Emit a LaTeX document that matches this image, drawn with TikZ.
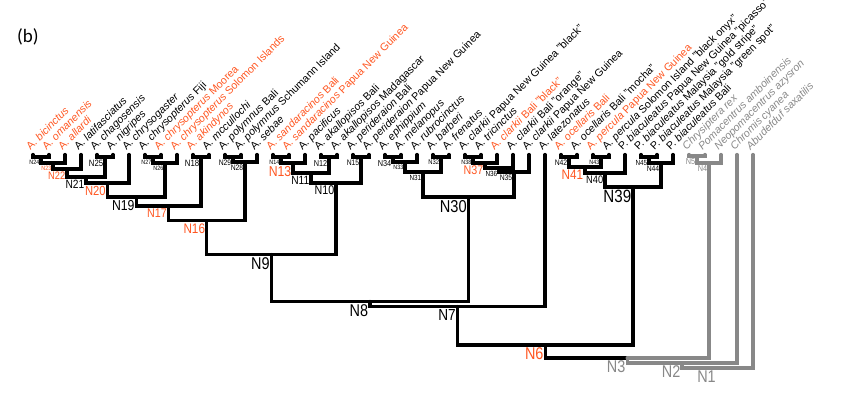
\documentclass[tikz,border=0pt]{standalone}
\usepackage{fontspec}
\usetikzlibrary{calc}
\setmainfont{Liberation Sans}
\newfontfamily\capfont{Carlito}
\definecolor{orng}{RGB}{255,87,34}
\definecolor{gry}{RGB}{136,136,136}
\newcommand\ed[2]{\draw[br] (#1) -| (#2);}
\newcommand\ged[2]{\draw[gbr] (#1) -| (#2);}
\newcommand\nlab[4][]{\node[nl=#3,#1] (l#2) at ($(#2)+(-1.6,2.8)$) {#4};}
\begin{document}
\begin{tikzpicture}[x=1pt,y=-1pt,
  br/.style={line width=3.2pt, line cap=round, draw=black},
  gbr/.style={br, draw=gry},
  leaflab/.style={rotate=45, anchor=base west, inner sep=0pt, font=\fontsize{10.7}{12}\selectfont},
  nl/.style={anchor=north east, inner sep=0pt, xscale=0.85, font=\fontsize{#1}{#1}\selectfont},
  hl/.style={text=orng},
  og/.style={text=gry}]
\useasboundingbox (0,0) rectangle (846,392);
\node[anchor=base west, inner sep=0pt, font=\capfont\fontsize{19}{19}\selectfont] (panel) at (17,42) {(b)};
% leaves
\foreach \i in {1,...,46}{
  \coordinate (L\i) at ({33+16*(\i-1)},154.5);
}
% internal nodes
\coordinate (N24) at (41,157);
\coordinate (N23) at (53,163);
\coordinate (N22) at (67,169);
\coordinate (N25) at (105,157);
\coordinate (N21) at (86,177);
\coordinate (N20) at (107.5,183);
\coordinate (N27) at (153,157);
\coordinate (N26) at (165,163);
\coordinate (N19) at (136.25,197);
\coordinate (N18) at (201,157);
\coordinate (N17) at (168.625,206);
\coordinate (N29) at (233,157);
\coordinate (N28) at (245,162);
\coordinate (N16) at (206.81,220.7);
\coordinate (N14) at (281,157);
\coordinate (N13) at (293,163);
\coordinate (N12) at (329,157);
\coordinate (N11) at (311,173);
\coordinate (N15) at (361,157);
\coordinate (N10) at (336,183);
\coordinate (N9) at (271.41,254.5);
\coordinate (N34) at (393,157);
\coordinate (N33) at (405,162);
\coordinate (N32) at (441,157);
\coordinate (N31) at (423,172);
\coordinate (N38) at (473,157);
\coordinate (N37) at (485,163);
\coordinate (N36) at (499,168);
\coordinate (N35) at (514,172);
\coordinate (N30) at (468.5,197);
\coordinate (N8) at (369.95,301.5);
\coordinate (N7) at (457.48,306.5);
\coordinate (N42) at (569,157);
\coordinate (N43) at (601,157);
\coordinate (N41) at (585,167);
\coordinate (N40) at (605,173);
\coordinate (N45) at (649,157);
\coordinate (N44) at (661,163);
\coordinate (N39) at (633,187);
\coordinate (N6) at (545.24,345);
\coordinate (N5) at (697,156);
\coordinate (N4) at (709,163);
\coordinate (N3) at (627.12,358);
\coordinate (N2) at (682.06,363);
\coordinate (N1) at (717.53,368);
% edges
\ed{N24}{L1}\ed{N24}{L2}
\ed{N23}{N24}\ed{N23}{L3}
\ed{N22}{N23}\ed{N22}{L4}
\ed{N25}{L5}\ed{N25}{L6}
\ed{N21}{N22}\ed{N21}{N25}
\ed{N20}{N21}\ed{N20}{L7}
\ed{N27}{L8}\ed{N27}{L9}
\ed{N26}{N27}\ed{N26}{L10}
\ed{N19}{N20}\ed{N19}{N26}
\ed{N18}{L11}\ed{N18}{L12}
\ed{N17}{N19}\ed{N17}{N18}
\ed{N29}{L13}\ed{N29}{L14}
\ed{N28}{N29}\ed{N28}{L15}
\ed{N16}{N17}\ed{N16}{N28}
\ed{N14}{L16}\ed{N14}{L17}
\ed{N13}{N14}\ed{N13}{L18}
\ed{N12}{L19}\ed{N12}{L20}
\ed{N11}{N13}\ed{N11}{N12}
\ed{N15}{L21}\ed{N15}{L22}
\ed{N10}{N11}\ed{N10}{N15}
\ed{N9}{N16}\ed{N9}{N10}
\ed{N34}{L23}\ed{N34}{L24}
\ed{N33}{N34}\ed{N33}{L25}
\ed{N32}{L26}\ed{N32}{L27}
\ed{N31}{N33}\ed{N31}{N32}
\ed{N38}{L28}\ed{N38}{L29}
\ed{N37}{N38}\ed{N37}{L30}
\ed{N36}{N37}\ed{N36}{L31}
\ed{N35}{N36}\ed{N35}{L32}
\ed{N30}{N31}\ed{N30}{N35}
\ed{N8}{N9}\ed{N8}{N30}
\ed{N7}{N8}\ed{N7}{L33}
\ed{N42}{L34}\ed{N42}{L35}
\ed{N43}{L36}\ed{N43}{L37}
\ed{N41}{N42}\ed{N41}{N43}
\ed{N40}{N41}\ed{N40}{L38}
\ed{N45}{L39}\ed{N45}{L40}
\ed{N44}{N45}\ed{N44}{L41}
\ed{N39}{N40}\ed{N39}{N44}
\ed{N6}{N7}\ed{N6}{N39}
\ged{N5}{L42}\ged{N5}{L43}
\ged{N4}{N5}\ged{N4}{L44}
\ed{N3}{N6}\ged{N3}{N4}
\ged{N2}{N3}\ged{N2}{L45}
\ged{N1}{N2}\ged{N1}{L46}
% node labels
\nlab[og]{N1}{17}{N1}
\nlab[og]{N2}{17}{N2}
\nlab[og]{N3}{17}{N3}
\nlab[og]{N4}{8.6}{N4}
\nlab[og]{N5}{8.6}{N5}
\nlab[hl]{N6}{17}{N6}
\nlab{N7}{16}{N7}
\nlab{N8}{17}{N8}
\nlab{N9}{17}{N9}
\nlab{N10}{12.6}{N10}
\nlab{N11}{12}{N11}
\nlab{N12}{8.6}{N12}
\nlab[hl]{N13}{14.4}{N13}
\nlab{N14}{6.3}{N14}
\nlab{N15}{8}{N15}
\nlab[hl]{N16}{13.8}{N16}
\nlab[hl]{N17}{12.6}{N17}
\nlab{N18}{9.2}{N18}
\nlab{N19}{14.4}{N19}
\nlab[hl]{N20}{13.2}{N20}
\nlab{N21}{12}{N21}
\nlab[hl]{N22}{10.9}{N22}
\nlab[hl]{N23}{6.3}{N23}
\nlab{N24}{6.3}{N24}
\nlab{N25}{9.2}{N25}
\nlab{N26}{6.3}{N26}
\nlab{N27}{6.3}{N27}
\nlab{N28}{8}{N28}
\nlab{N29}{8}{N29}
\nlab{N30}{17.2}{N30}
\nlab{N31}{7.5}{N31}
\nlab{N32}{6.9}{N32}
\nlab{N33}{6.3}{N33}
\nlab{N34}{8.6}{N34}
\nlab{N35}{8}{N35}
\nlab{N36}{7.5}{N36}
\nlab[hl]{N37}{12.6}{N37}
\nlab{N38}{6.3}{N38}
\nlab{N39}{17.8}{N39}
\nlab{N40}{10.9}{N40}
\nlab[hl]{N41}{13.8}{N41}
\nlab{N42}{8}{N42}
\nlab{N43}{6.3}{N43}
\nlab{N44}{8}{N44}
\nlab{N45}{7.5}{N45}
% leaf labels
\node[leaflab,hl] (t1) at ($(L1)+(-2.5,-4)$) {A. \textit{bicinctus}};
\node[leaflab,hl] (t2) at ($(L2)+(-2.5,-4)$) {A. \textit{omanensis}};
\node[leaflab,hl] (t3) at ($(L3)+(-2.5,-4)$) {A. \textit{allardi}};
\node[leaflab] (t4) at ($(L4)+(-2.5,-4)$) {A. \textit{latifasciatus}};
\node[leaflab] (t5) at ($(L5)+(-2.5,-4)$) {A. \textit{chagosensis}};
\node[leaflab] (t6) at ($(L6)+(-2.5,-4)$) {A. \textit{nigripes}};
\node[leaflab] (t7) at ($(L7)+(-2.5,-4)$) {A. \textit{chrysogaster}};
\node[leaflab] (t8) at ($(L8)+(-2.5,-4)$) {A. \textit{chrysopterus} Fiji};
\node[leaflab,hl] (t9) at ($(L9)+(-2.5,-4)$) {A. \textit{chrysopterus} Moorea};
\node[leaflab,hl] (t10) at ($(L10)+(-2.5,-4)$) {A. \textit{chrysopterus} Solomon Islands};
\node[leaflab,hl] (t11) at ($(L11)+(-2.5,-4)$) {A. \textit{akindynos}};
\node[leaflab] (t12) at ($(L12)+(-2.5,-4)$) {A. \textit{mccullochi}};
\node[leaflab] (t13) at ($(L13)+(-2.5,-4)$) {A. \textit{polymnus} Bali};
\node[leaflab] (t14) at ($(L14)+(-2.5,-4)$) {A. \textit{polymnus} Schumann Island};
\node[leaflab] (t15) at ($(L15)+(-2.5,-4)$) {A. \textit{sebae}};
\node[leaflab,hl] (t16) at ($(L16)+(-2.5,-4)$) {A. \textit{sandaracinos} Bali};
\node[leaflab,hl] (t17) at ($(L17)+(-2.5,-4)$) {A. \textit{sandaracinos} Papua New Guinea};
\node[leaflab] (t18) at ($(L18)+(-2.5,-4)$) {A. \textit{pacificus}};
\node[leaflab] (t19) at ($(L19)+(-2.5,-4)$) {A. \textit{akallopisos} Bali};
\node[leaflab] (t20) at ($(L20)+(-2.5,-4)$) {A. \textit{akallopisos} Madagascar};
\node[leaflab] (t21) at ($(L21)+(-2.5,-4)$) {A. \textit{perideraion} Bali};
\node[leaflab] (t22) at ($(L22)+(-2.5,-4)$) {A. \textit{perideraion} Papua New Guinea};
\node[leaflab] (t23) at ($(L23)+(-2.5,-4)$) {A. \textit{ephippium}};
\node[leaflab] (t24) at ($(L24)+(-2.5,-4)$) {A. \textit{melanopus}};
\node[leaflab] (t25) at ($(L25)+(-2.5,-4)$) {A. \textit{rubrocinctus}};
\node[leaflab] (t26) at ($(L26)+(-2.5,-4)$) {A. \textit{barberi}};
\node[leaflab] (t27) at ($(L27)+(-2.5,-4)$) {A. \textit{frenatus}};
\node[leaflab] (t28) at ($(L28)+(-2.5,-4)$) {A. \textit{clarkii} Papua New Guinea "black"};
\node[leaflab] (t29) at ($(L29)+(-2.5,-4)$) {A. \textit{tricinctus}};
\node[leaflab,hl] (t30) at ($(L30)+(-2.5,-4)$) {A. \textit{clarkii} Bali "black"};
\node[leaflab] (t31) at ($(L31)+(-2.5,-4)$) {A. \textit{clarkii} Bali "orange"};
\node[leaflab] (t32) at ($(L32)+(-2.5,-4)$) {A. \textit{clarkii} Papua New Guinea};
\node[leaflab] (t33) at ($(L33)+(-2.5,-4)$) {A. \textit{latezonatus}};
\node[leaflab,hl] (t34) at ($(L34)+(-2.5,-4)$) {A. \textit{ocellaris} Bali};
\node[leaflab] (t35) at ($(L35)+(-2.5,-4)$) {A. \textit{ocellaris} Bali "mocha"};
\node[leaflab,hl] (t36) at ($(L36)+(-2.5,-4)$) {A. \textit{percula} Papua New Guinea};
\node[leaflab] (t37) at ($(L37)+(-2.5,-4)$) {A. \textit{percula} Solomon Island "black onyx"};
\node[leaflab] (t38) at ($(L38)+(-2.5,-4)$) {P. \textit{biaculeatus} Papua New Guinea "picasso"};
\node[leaflab] (t39) at ($(L39)+(-2.5,-4)$) {P. \textit{biaculeatus} Malaysia "gold stripe"};
\node[leaflab] (t40) at ($(L40)+(-2.5,-4)$) {P. \textit{biaculeatus} Malaysia "green spot"};
\node[leaflab] (t41) at ($(L41)+(-2.5,-4)$) {P. \textit{biaculeatus} Bali};
\node[leaflab,og] (t42) at ($(L42)+(-2.5,-4)$) {\textit{Chrysiptera rex}};
\node[leaflab,og] (t43) at ($(L43)+(-2.5,-4)$) {\textit{Pomacentrus amboinensis}};
\node[leaflab,og] (t44) at ($(L44)+(-2.5,-4)$) {\textit{Neopomacentrus azysron}};
\node[leaflab,og] (t45) at ($(L45)+(-2.5,-4)$) {\textit{Chromis cyanea}};
\node[leaflab,og] (t46) at ($(L46)+(-2.5,-4)$) {\textit{Abudefduf saxatilis}};
\end{tikzpicture}
\end{document}
